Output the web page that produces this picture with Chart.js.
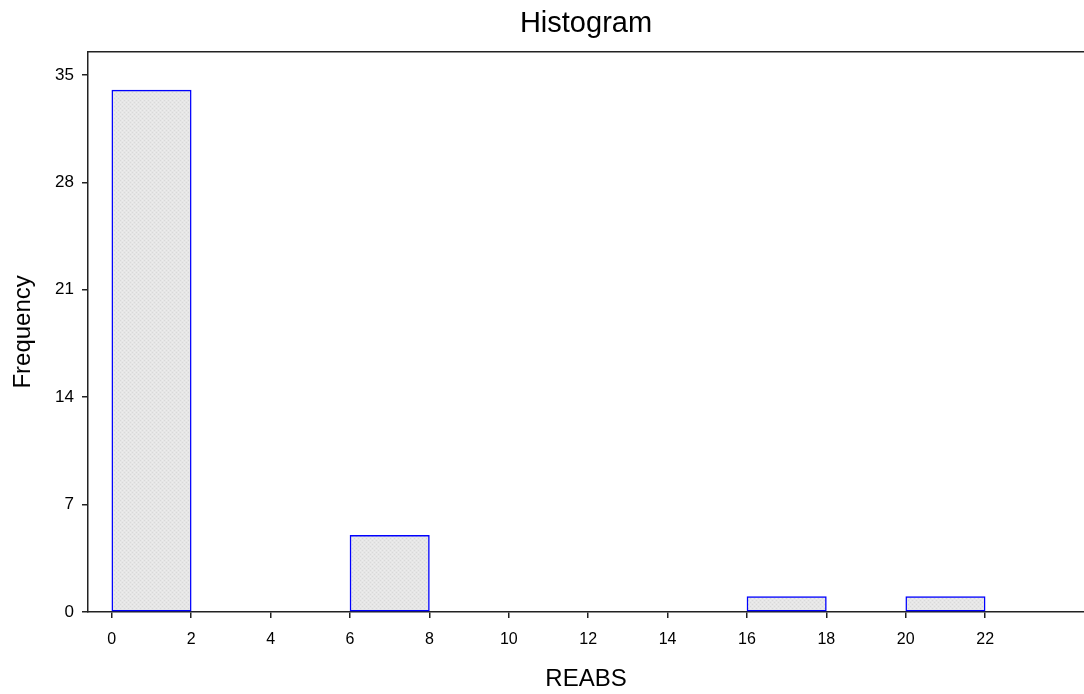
<!DOCTYPE html>
<html>
<head>
<meta charset="utf-8">
<title>Histogram</title>
<script src="https://cdn.jsdelivr.net/npm/chart.js@4/dist/chart.umd.min.js"></script>
<style>
  html, body { margin: 0; padding: 0; background: #fff; }
  #wrap { width: 1084px; height: 694px; }
</style>
</head>
<body>
<div id="wrap"><canvas id="hist" width="1084" height="694"></canvas></div>
<script>
// Histogram bins (left edge of each bin) and their counts
const binStarts = [0, 6, 16, 20];
const binCounts = [34, 5, 1, 1];
const binWidth = 2;

// Tick values shown on the axes
const xTickValues = [0, 2, 4, 6, 8, 10, 12, 14, 16, 18, 20, 22];
const yTickValues = [0, 7, 14, 21, 28, 35];

const FONT = "'Liberation Sans', Arial, sans-serif";

// light grey stipple fill like the original
function makePattern() {
  const c = document.createElement('canvas');
  c.width = 4; c.height = 4;
  const g = c.getContext('2d');
  g.fillStyle = '#e6e6e6';
  g.fillRect(0, 0, 4, 4);
  g.fillStyle = '#d9d9d9';
  g.fillRect(0, 0, 1, 1);
  g.fillRect(2, 2, 1, 1);
  g.fillStyle = '#ededed';
  g.fillRect(2, 0, 1, 1);
  g.fillRect(0, 2, 1, 1);
  return g.createPattern(c, 'repeat');
}

// top frame line of the plot area
const topLine = {
  id: 'topLine',
  afterDraw(chart) {
    const { ctx, chartArea } = chart;
    ctx.save();
    ctx.strokeStyle = '#222';
    ctx.lineWidth = 1.5;
    ctx.beginPath();
    ctx.moveTo(chartArea.left, chartArea.top);
    ctx.lineTo(chartArea.right, chartArea.top);
    ctx.stroke();
    ctx.restore();
  }
};

const points = binStarts.map((s, i) => ({ x: s + binWidth / 2, y: binCounts[i] }));

const ctx = document.getElementById('hist').getContext('2d');
new Chart(ctx, {
  type: 'bar',
  data: {
    datasets: [{
      data: points,
      backgroundColor: makePattern(),
      borderColor: '#0000ff',
      borderWidth: 1.5,
      borderSkipped: false,
      categoryPercentage: 1,
      barPercentage: 1
    }]
  },
  options: {
    responsive: false,
    animation: false,
    layout: { padding: { left: 0, right: 0, top: 0, bottom: 0 } },
    plugins: {
      legend: { display: false },
      tooltip: { enabled: false },
      title: {
        display: true,
        text: 'Histogram',
        fullSize: false,
        color: '#000',
        font: { family: FONT, size: 29, weight: 'normal' },
        padding: { top: 7, bottom: 10 }
      }
    },
    scales: {
      x: {
        type: 'linear',
        offset: false,
        min: -0.6,
        max: 24.49,
        afterBuildTicks: (scale) => { scale.ticks = xTickValues.map(v => ({ value: v })); },
        afterFit: (scale) => { scale.height = 82; },
        grid: { offset: false, drawOnChartArea: false, drawTicks: true, tickLength: 6, color: '#222', lineWidth: 1.5 },
        border: { display: true, color: '#222', width: 1.5 },
        ticks: { color: '#000', font: { family: FONT, size: 16 }, padding: 12, maxRotation: 0 },
        title: {
          display: true,
          text: 'REABS',
          color: '#000',
          font: { family: FONT, size: 24 },
          padding: { top: 1, bottom: 0 }
        }
      },
      y: {
        min: 0,
        max: 36.5,
        afterBuildTicks: (scale) => { scale.ticks = yTickValues.map(v => ({ value: v })); },
        afterFit: (scale) => { scale.width = 88; },
        grid: { drawOnChartArea: false, drawTicks: true, tickLength: 6, color: '#222', lineWidth: 1.5 },
        border: { display: true, color: '#222', width: 1.5 },
        ticks: { color: '#000', font: { family: FONT, size: 17 }, padding: 8 },
        title: {
          display: true,
          text: 'Frequency',
          color: '#000',
          font: { family: FONT, size: 24 },
          padding: { top: 9, bottom: 0 }
        }
      }
    }
  },
  plugins: [topLine]
});
</script>
</body>
</html>
